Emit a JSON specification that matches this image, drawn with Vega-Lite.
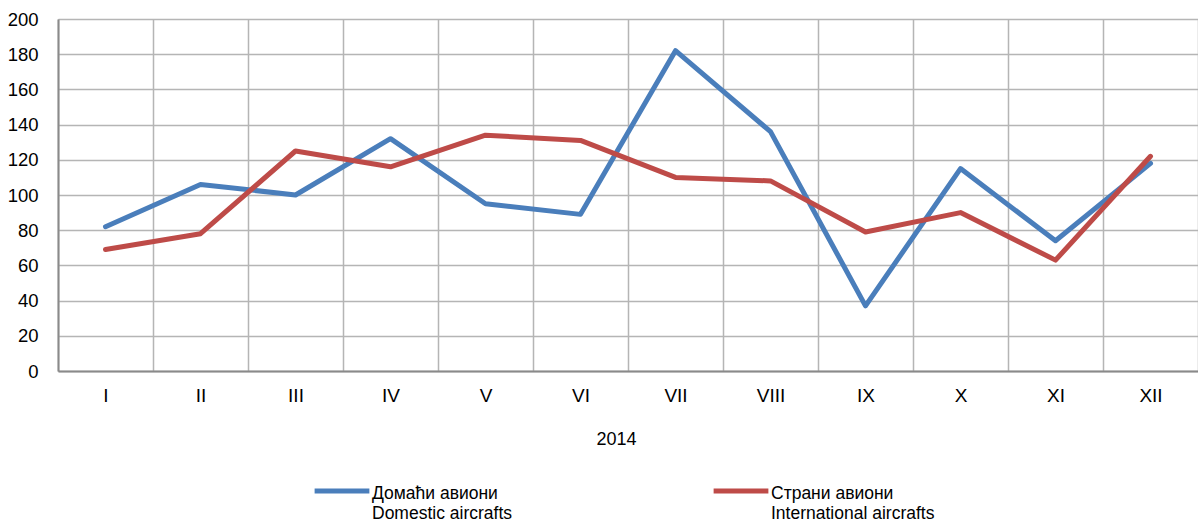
{
  "$schema": "https://vega.github.io/schema/vega-lite/v6.json",
  "autosize": {"type": "none"},
  "padding": {"left": 58, "top": 19, "right": 0, "bottom": 155},
  "width": 1140,
  "height": 352,
  "background": "white",
  "config": {
    "font": "Liberation Sans",
    "view": {"stroke": null}
  },
  "data": {
    "values": [
      {"month": "I", "series": "Домаћи авиони", "value": 82},
      {"month": "II", "series": "Домаћи авиони", "value": 106},
      {"month": "III", "series": "Домаћи авиони", "value": 100},
      {"month": "IV", "series": "Домаћи авиони", "value": 132},
      {"month": "V", "series": "Домаћи авиони", "value": 95},
      {"month": "VI", "series": "Домаћи авиони", "value": 89},
      {"month": "VII", "series": "Домаћи авиони", "value": 182},
      {"month": "VIII", "series": "Домаћи авиони", "value": 136},
      {"month": "IX", "series": "Домаћи авиони", "value": 37},
      {"month": "X", "series": "Домаћи авиони", "value": 115},
      {"month": "XI", "series": "Домаћи авиони", "value": 74},
      {"month": "XII", "series": "Домаћи авиони", "value": 118},
      {"month": "I", "series": "Страни авиони", "value": 69},
      {"month": "II", "series": "Страни авиони", "value": 78},
      {"month": "III", "series": "Страни авиони", "value": 125},
      {"month": "IV", "series": "Страни авиони", "value": 116},
      {"month": "V", "series": "Страни авиони", "value": 134},
      {"month": "VI", "series": "Страни авиони", "value": 131},
      {"month": "VII", "series": "Страни авиони", "value": 110},
      {"month": "VIII", "series": "Страни авиони", "value": 108},
      {"month": "IX", "series": "Страни авиони", "value": 79},
      {"month": "X", "series": "Страни авиони", "value": 90},
      {"month": "XI", "series": "Страни авиони", "value": 63},
      {"month": "XII", "series": "Страни авиони", "value": 122}
    ]
  },
  "mark": {"type": "line", "strokeWidth": 5, "strokeCap": "round", "strokeJoin": "round"},
  "encoding": {
    "x": {
      "field": "month",
      "type": "ordinal",
      "sort": ["I","II","III","IV","V","VI","VII","VIII","IX","X","XI","XII"],
      "bandPosition": 0.5,
      "scale": {"type": "band", "paddingInner": 0, "paddingOuter": 0},
      "axis": {
        "title": "2014",
        "titleFontSize": 18,
        "titleFontWeight": "normal",
        "titleColor": "#000",
        "titlePadding": 25,
        "titleX": 558,
        "labelFontSize": 19,
        "labelColor": "#000",
        "labelPadding": 15,
        "labelAngle": 0,
        "ticks": false,
        "tickBand": "extent",
        "grid": true,
        "gridColor": "#b5b5b5",
        "gridWidth": 1.5,
        "domainColor": "#8a8a8a",
        "domainWidth": 2
      }
    },
    "y": {
      "field": "value",
      "type": "quantitative",
      "scale": {"domain": [0, 200], "nice": false},
      "axis": {
        "title": null,
        "values": [0,20,40,60,80,100,120,140,160,180,200],
        "labelFontSize": 18.5,
        "labelColor": "#000",
        "labelPadding": 20,
        "ticks": false,
        "grid": true,
        "gridColor": "#b5b5b5",
        "gridWidth": 1.5,
        "domainColor": "#8a8a8a",
        "domainWidth": 2
      }
    },
    "color": {
      "field": "series",
      "type": "nominal",
      "scale": {"domain": ["Домаћи авиони", "Страни авиони"], "range": ["#4a7ebb", "#be4b48"]},
      "legend": {
        "title": null,
        "orient": "none",
        "direction": "horizontal",
        "legendX": 254,
        "legendY": 442,
        "symbolType": "stroke",
        "symbolSize": 3000,
        "symbolStrokeWidth": 5,
        "labelFontSize": 17.5,
        "labelColor": "#000",
        "labelOffset": 0,
        "labelLimit": 400,
        "labelBaseline": "top",
        "labelLineHeight": 23,
        "columnPadding": 190,
        "labelExpr": "datum.label == 'Домаћи авиони' ? ['Домаћи авиони', 'Domestic aircrafts'] : ['Страни авиони', 'International aircrafts']",
        "encode": {"labels": {"update": {"dy": {"value": -6}}}}
      }
    }
  }
}
